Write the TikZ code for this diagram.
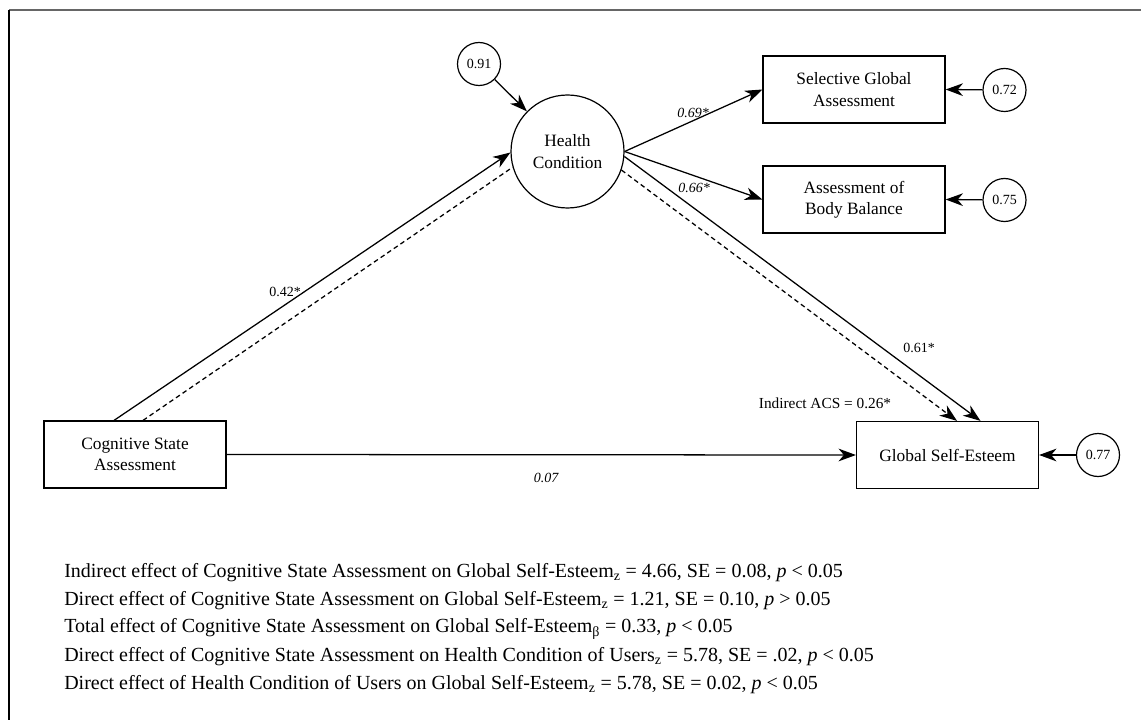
\documentclass[tikz,border=0pt]{standalone}
\usepackage{fontspec}
\setmainfont{Liberation Serif}
\usetikzlibrary{arrows.meta,calc}
\begin{document}
\begin{tikzpicture}[x=0.75pt,y=-0.75pt,
  box/.style={draw,line width=0.9pt,minimum width=136.5pt,minimum height=50.25pt,align=center,font=\fontsize{13}{16}\selectfont,inner sep=0pt},
  lat/.style={draw,circle,line width=0.9pt,minimum size=84.75pt,align=center,font=\fontsize{13}{16}\selectfont,inner sep=0pt},
  err/.style={draw,circle,line width=0.9pt,minimum size=32.25pt,font=\fontsize{10.5}{12}\selectfont,inner sep=0pt},
  arr/.style={line width=0.95pt,-{Stealth[length=13pt,width=9.5pt,inset=4pt]}},
  darr/.style={arr,dash pattern=on 3.5pt off 2.5pt},
  dln/.style={line width=0.95pt,dash pattern=on 3.5pt off 2.5pt},
  lbl/.style={font=\fontsize{10.5}{12}\selectfont,inner sep=0pt},
  ilbl/.style={lbl,font=\fontsize{10.5}{12}\selectfont\itshape},
  note/.style={anchor=west,inner sep=0pt,font=\fontsize{15}{17}\selectfont}]
\useasboundingbox (0,0) rectangle (1141,720);
% frame
\draw[line width=1.2pt,black!60] (9,10) -- (1141,10);
\draw[line width=1pt] (9,10) -- (9,720);
% nodes
\node[lat] (hc) at (567.5,151.5) {Health\\Condition};
\node[err] (e91) at (479,64) {0.91};
\node[box] (sga) at (854,89.5) {Selective Global\\Assessment};
\node[box] (abb) at (854,199.5) {Assessment of\\Body Balance};
\node[err] (e72) at (1004.5,90) {0.72};
\node[err] (e75) at (1004.5,200) {0.75};
\node[box] (csa) at (135,454.5) {Cognitive State\\Assessment};
\node[box] (gse) at (947.5,455) {Global Self-Esteem};
\node[err] (e77) at (1098,455) {0.77};
% connectors
\draw[arr] (e91) -- (hc);
\draw[arr] ($(csa.north)+(-21,0)$) -- (hc.181.5);
\draw[dln] ($(csa.north)+(8,0)$) -- (hc.196);
\draw[arr] (hc.east) -- (sga.west);
\draw[arr] (hc.east) -- (abb.west);
\draw[arr] (hc.-5.5) -- ($(gse.north)+(33,0)$);
\draw[darr] (hc.-19) -- ($(gse.north)+(9.5,0)$);
\draw[arr] (csa.east) -- (gse.west);
\draw[arr] (e72) -- (sga.east);
\draw[arr] (e75) -- (abb.east);
\draw[arr] (e77) -- (gse.east);
% labels
\node[lbl] (l42) at (285,292) {0.42*};
\node[ilbl] (l69) at (693,113) {0.69*};
\node[ilbl] (l66) at (694,188) {0.66*};
\node[lbl] (l61) at (919,348) {0.61*};
\node[lbl,font=\fontsize{11.5}{13}\selectfont] (lind) at (825,403) {Indirect ACS = 0.26*};
\node[ilbl] (l07) at (546,478) {0.07};
% notes
\node[note] (n1) at (64,573) {Indirect effect of Cognitive State Assessment on Global Self-Esteem\textsubscript{z} = 4.66, SE = 0.08, \textit{p} < 0.05};
\node[note] (n2) at (64,601) {Direct effect of Cognitive State Assessment on Global Self-Esteem\textsubscript{z} = 1.21, SE = 0.10, \textit{p} > 0.05};
\node[note] (n3) at (64,629) {Total effect of Cognitive State Assessment on Global Self-Esteem\textsubscript{β} = 0.33, \textit{p} < 0.05};
\node[note] (n4) at (64,657) {Direct effect of Cognitive State Assessment on Health Condition of Users\textsubscript{z} = 5.78, SE = .02, \textit{p} < 0.05};
\node[note] (n5) at (64,685) {Direct effect of Health Condition of Users on Global Self-Esteem\textsubscript{z} = 5.78, SE = 0.02, \textit{p} < 0.05};
\end{tikzpicture}
\end{document}
